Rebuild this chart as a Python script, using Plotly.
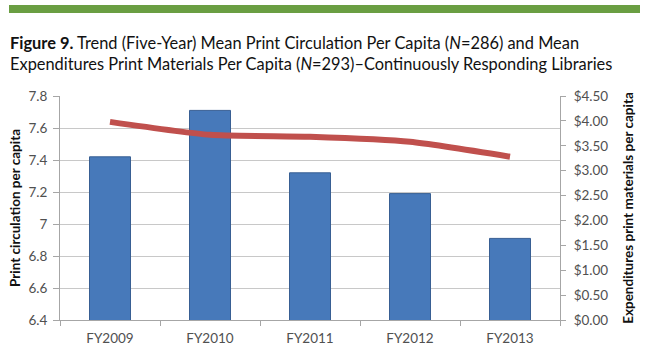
import plotly.graph_objects as go

years = ["FY2009", "FY2010", "FY2011", "FY2012", "FY2013"]
circulation = [7.42, 7.71, 7.32, 7.19, 6.91]
expenditures = [3.98, 3.72, 3.68, 3.58, 3.28]
left_ticks = [6.4, 6.6, 6.8, 7.0, 7.2, 7.4, 7.6, 7.8]
left_tick_text = ["6.4", "6.6", "6.8", "7", "7.2", "7.4", "7.6", "7.8"]
right_ticks = [0, 0.5, 1, 1.5, 2, 2.5, 3, 3.5, 4, 4.5]
right_tick_text = ["$%.2f" % v for v in right_ticks]

W, H = 646, 352
L, R, T, B = 60, 86, 96, 32
pw, ph = W - L - R, H - T - B

def px(x):
    return (x - L) / pw

def py(y):
    return (H - B - y) / ph

fig = go.Figure()
fig.add_trace(go.Bar(
    x=years, y=circulation, width=0.41,
    marker=dict(color="#4779BA", line=dict(color="#385F93", width=1)),
    yaxis="y", showlegend=False,
))
fig.add_trace(go.Scatter(
    x=years, y=expenditures, mode="lines",
    line=dict(color="#C0504D", width=6, shape="spline", smoothing=0.6),
    yaxis="y2", showlegend=False,
))

tick_font = dict(family="Lato, Open Sans, sans-serif", size=13.5, color="#505050")
title_font = dict(family="Lato, Open Sans, sans-serif", size=13.5, color="#111111")
fig.update_layout(
    width=W, height=H,
    margin=dict(l=L, r=R, t=T, b=B, pad=0),
    paper_bgcolor="white", plot_bgcolor="white",
    xaxis=dict(
        type="category", showgrid=False, showline=True, linecolor="#A6A6A6",
        ticks="outside", tickson="boundaries", ticklen=5, tickcolor="#A6A6A6",
        tickfont=tick_font, range=[-0.5, 4.5], ticklabelstandoff=6,
        automargin=False,
    ),
    yaxis=dict(
        range=[6.4, 7.8], tickvals=left_ticks, ticktext=left_tick_text,
        showgrid=True, gridcolor="#C8C8C8", gridwidth=1,
        showline=True, linecolor="#A6A6A6", ticks="outside", ticklen=6,
        tickcolor="#A6A6A6", tickfont=tick_font, zeroline=False,
        ticklabelstandoff=3, automargin=False,
        title=dict(text="<b>Print circulation per capita</b>", font=title_font,
                   standoff=4),
    ),
    yaxis2=dict(
        range=[0, 4.5], tickvals=right_ticks, ticktext=right_tick_text,
        overlaying="y", side="right", showgrid=False,
        showline=True, linecolor="#A6A6A6", ticks="outside", ticklen=5,
        tickcolor="#A6A6A6", tickfont=tick_font, zeroline=False,
        ticklabelstandoff=5, automargin=False,
        title=dict(text="<b>Expenditures print materials per capita</b>", font=title_font,
                   standoff=16),
    ),
    shapes=[dict(type="rect", xref="paper", yref="paper",
                 x0=px(9), x1=px(640), y0=py(13), y1=py(5),
                 fillcolor="#6A9E42", line=dict(width=0))],
    annotations=[dict(
        xref="paper", yref="paper", x=px(8), y=py(31), xanchor="left", yanchor="top",
        align="left", showarrow=False,
        text="<b>Figure 9.</b> Trend (Five-Year) Mean Print Circulation Per Capita (<i>N</i>=286) and Mean<br>"
             "Expenditures Print Materials Per Capita (<i>N</i>=293)\u2013Continuously Responding Libraries",
        font=dict(family="Lato, Open Sans, sans-serif", size=16.4, color="#111111"),
    )],
)
fig.write_html("out.html")
